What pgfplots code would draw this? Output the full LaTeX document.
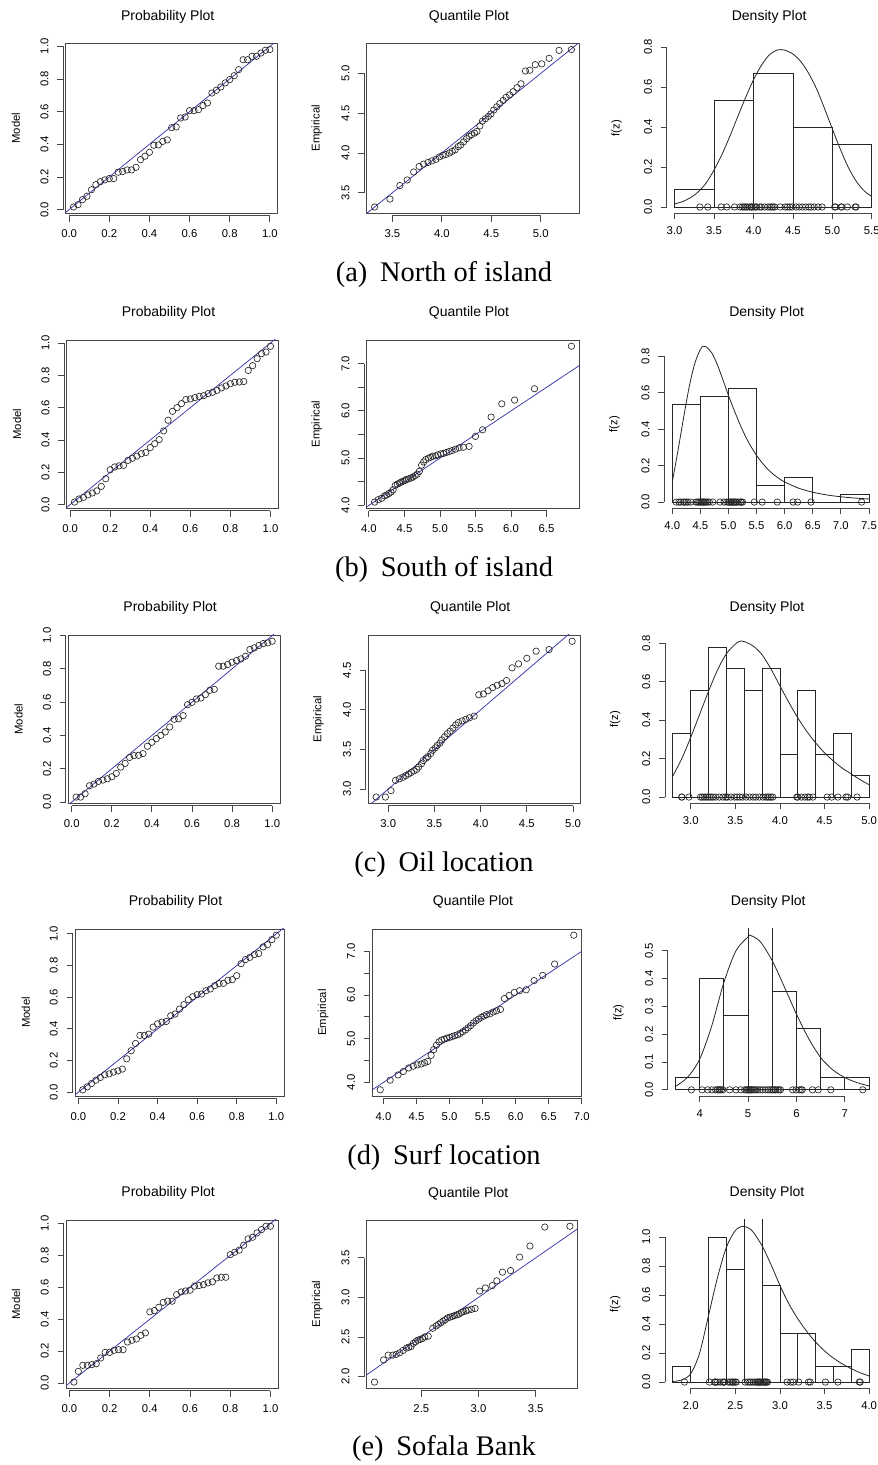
\documentclass[border=0pt]{standalone}
\usepackage{fontspec}
\setmainfont{Liberation Serif}
\newfontfamily\rsans{Liberation Sans}
\usepackage{pgfplots}
\usepackage{pgfplotstable}
\pgfplotsset{compat=1.18}

\definecolor{rblue}{RGB}{55,55,170}
\newcommand\rtick{\rsans\fontsize{11.3}{13}\selectfont}
\newcommand\rtitle{\rsans\fontsize{14}{16}\selectfont}
\newcommand\capfont{\fontsize{28.4}{31}\selectfont}

\tikzset{
  raxisline/.style={black!72, line width=0.85pt},
  rframe/.style={black!72, line width=0.85pt},
}
\pgfplotsset{
  rbase/.style={
    scale only axis, clip mode=individual, anchor=south west,
    axis x line*=bottom, axis y line*=left,
    x axis line style={draw=none}, y axis line style={draw=none},
    tick align=outside, major tick length=6pt,
    tick style={black!72, line width=0.85pt},
    tick label style={font=\rtick, /pgf/number format/assume math mode=true,
      /pgf/number format/fixed, /pgf/number format/fixed zerofill,
      /pgf/number format/precision=1},
    xticklabel style={inner sep=7.6pt},
    yticklabel style={rotate=90, anchor=south, inner sep=8.6pt},
    title style={font=\rtitle, at={(axis description cs:0.5,1)}, anchor=base, yshift=17pt, xshift=-4pt},
    every axis y label/.style={font=\rtick, at={(axis description cs:-0.235,0.5)}, rotate=90, anchor=center},
  },
  rpq/.style={rbase, axis x line shift=2.5pt, axis y line shift=2.5pt},
  rden/.style={rbase},
  rpts/.style={only marks, mark=o, mark size=3.2pt, black!85, mark options={line width=0.65pt}},
  rbar/.style={ybar, bar shift=0pt, draw=black!85, fill=none, line width=0.8pt},
  rcurve/.style={smooth, black!85, line width=0.8pt, no marks},
}
\newcommand\xline[4]{\draw[raxisline] ([yshift=-#4]axis cs:#1,#3) -- ([yshift=-#4]axis cs:#2,#3);}
\newcommand\yline[4]{\draw[raxisline] ([xshift=-#4]axis cs:#3,#1) -- ([xshift=-#4]axis cs:#3,#2);}

% Probability panel: x, y, w, h, ymin, ymax, table
\newcommand\PPanel[7]{%
\begin{axis}[rpq, at={(#1pt,#2pt)}, width=#3pt, height=#4pt,
  xmin=-0.017, xmax=1.039, ymin=#5, ymax=#6,
  xtick={0,0.2,0.4,0.6,0.8,1}, ytick={0,0.2,0.4,0.6,0.8,1},
  title={Probability Plot}, ylabel={Model}]
  \draw[rframe] (rel axis cs:0,0) rectangle (rel axis cs:1,1);
  \xline{0}{1}{#5}{2.5pt}
  \yline{0}{1}{-0.017}{2.5pt}
  \addplot[rblue, line width=0.75pt] coordinates {(-1,-1) (2,2)};
  \addplot[rpts] table[x=px, y=py] {#7};
\end{axis}}

\pgfplotstableread{
px py qx qy z
0.0222 0.016 3.32 3.32 0
0.0444 0.030 3.475 3.42 0
0.0667 0.061 3.575 3.59 0
0.0889 0.082 3.65 3.66 0
0.1111 0.122 3.715 3.76 0
0.1333 0.153 3.77 3.83 0
0.1556 0.171 3.815 3.86 0
0.1778 0.182 3.86 3.88 0
0.2000 0.190 3.90 3.90 0
0.2222 0.190 3.94 3.92 0
0.2444 0.229 3.975 3.95 0
0.2667 0.233 4.01 3.97 0
0.2889 0.243 4.04 3.98 0
0.3111 0.243 4.075 4.00 0
0.3333 0.259 4.105 4.02 0
0.3556 0.306 4.135 4.04 0
0.3778 0.327 4.165 4.08 0
0.4000 0.351 4.19 4.10 0
0.4222 0.394 4.22 4.14 0
0.4444 0.396 4.25 4.18 0
0.4667 0.418 4.275 4.21 0
0.4889 0.427 4.30 4.23 0
0.5111 0.502 4.33 4.25 0
0.5333 0.506 4.355 4.27 0
0.5556 0.561 4.385 4.34 0
0.5778 0.567 4.41 4.40 0
0.6000 0.606 4.44 4.43 0
0.6222 0.606 4.47 4.46 0
0.6444 0.612 4.495 4.49 0
0.6667 0.637 4.525 4.54 0
0.6889 0.653 4.555 4.58 0
0.7111 0.714 4.585 4.62 0
0.7333 0.731 4.62 4.66 0
0.7556 0.751 4.65 4.70 0
0.7778 0.776 4.685 4.73 0
0.8000 0.796 4.72 4.77 0
0.8222 0.820 4.76 4.82 0
0.8444 0.857 4.80 4.87 0
0.8667 0.918 4.845 5.03 0
0.8889 0.918 4.89 5.04 0
0.9111 0.939 4.945 5.11 0
0.9333 0.939 5.01 5.12 0
0.9556 0.959 5.085 5.19 0
0.9778 0.976 5.185 5.29 0
1.0000 0.980 5.31 5.30 0
}\dataA

\pgfplotstableread{
px py qx qy z
0.0222 0.016 4.08 4.07 0
0.0444 0.035 4.13 4.12 0
0.0667 0.045 4.18 4.15 0
0.0889 0.060 4.22 4.20 0
0.1111 0.072 4.25 4.22 0
0.1333 0.085 4.28 4.25 0
0.1556 0.113 4.31 4.28 0
0.1778 0.160 4.34 4.33 0
0.2000 0.216 4.37 4.42 0
0.2222 0.233 4.40 4.45 0
0.2444 0.240 4.43 4.47 0
0.2667 0.243 4.45 4.49 0
0.2889 0.274 4.48 4.51 0
0.3111 0.287 4.51 4.53 0
0.3333 0.300 4.53 4.55 0
0.3556 0.315 4.56 4.56 0
0.3778 0.322 4.59 4.58 0
0.4000 0.353 4.62 4.60 0
0.4222 0.377 4.65 4.63 0
0.4444 0.402 4.68 4.66 0
0.4667 0.456 4.71 4.72 0
0.4889 0.522 4.74 4.85 0
0.5111 0.577 4.77 4.92 0
0.5333 0.600 4.80 4.97 0
0.5556 0.625 4.84 5.00 0
0.5778 0.650 4.87 5.02 0
0.6000 0.654 4.90 5.04 0
0.6222 0.662 4.94 5.05 0
0.6444 0.670 4.97 5.07 0
0.6667 0.674 5.01 5.09 0
0.6889 0.687 5.05 5.10 0
0.7111 0.695 5.09 5.12 0
0.7333 0.707 5.13 5.14 0
0.7556 0.722 5.17 5.16 0
0.7778 0.734 5.22 5.19 0
0.8000 0.748 5.27 5.22 0
0.8222 0.757 5.33 5.23 0
0.8444 0.759 5.41 5.25 0
0.8667 0.762 5.50 5.46 0
0.8889 0.830 5.60 5.60 0
0.9111 0.860 5.72 5.87 0
0.9333 0.903 5.87 6.15 0
0.9556 0.934 6.05 6.23 0
0.9778 0.944 6.33 6.47 0
1.0000 0.980 6.85 7.37 0
}\dataB

\pgfplotstableread{
px py qx qy z
0.0222 0.030 2.87 2.90 0
0.0444 0.030 2.97 2.90 0
0.0667 0.050 3.03 2.98 0
0.0889 0.098 3.08 3.11 0
0.1111 0.108 3.12 3.13 0
0.1333 0.124 3.16 3.15 0
0.1556 0.132 3.19 3.17 0
0.1778 0.140 3.22 3.19 0
0.2000 0.152 3.25 3.21 0
0.2222 0.172 3.28 3.23 0
0.2444 0.210 3.31 3.25 0
0.2667 0.232 3.33 3.28 0
0.2889 0.268 3.36 3.32 0
0.3111 0.279 3.38 3.36 0
0.3333 0.281 3.41 3.39 0
0.3556 0.291 3.43 3.41 0
0.3778 0.335 3.46 3.45 0
0.4000 0.359 3.48 3.49 0
0.4222 0.381 3.51 3.52 0
0.4444 0.401 3.53 3.55 0
0.4667 0.421 3.56 3.58 0
0.4889 0.451 3.58 3.62 0
0.5111 0.497 3.61 3.66 0
0.5333 0.500 3.64 3.70 0
0.5556 0.519 3.67 3.73 0
0.5778 0.585 3.70 3.77 0
0.6000 0.599 3.73 3.81 0
0.6222 0.619 3.76 3.84 0
0.6444 0.625 3.80 3.86 0
0.6667 0.645 3.84 3.88 0
0.6889 0.671 3.88 3.90 0
0.7111 0.677 3.93 3.92 0
0.7333 0.816 3.98 4.19 0
0.7556 0.816 4.03 4.20 0
0.7778 0.826 4.08 4.24 0
0.8000 0.840 4.13 4.28 0
0.8222 0.850 4.18 4.31 0
0.8444 0.860 4.23 4.33 0
0.8667 0.876 4.28 4.37 0
0.8889 0.916 4.34 4.53 0
0.9111 0.926 4.41 4.58 0
0.9333 0.940 4.50 4.65 0
0.9556 0.952 4.60 4.74 0
0.9778 0.956 4.74 4.76 0
1.0000 0.966 4.99 4.865 0
}\dataC

\pgfplotstableread{
px py qx qy z
0.0222 0.015 3.95 3.83 0
0.0444 0.034 4.10 4.05 0
0.0667 0.055 4.22 4.17 0
0.0889 0.076 4.30 4.25 0
0.1111 0.093 4.38 4.33 0
0.1333 0.110 4.45 4.37 0
0.1556 0.116 4.51 4.40 0
0.1778 0.127 4.57 4.42 0
0.2000 0.135 4.62 4.45 0
0.2222 0.146 4.67 4.48 0
0.2444 0.211 4.72 4.62 0
0.2667 0.262 4.76 4.75 0
0.2889 0.308 4.80 4.85 0
0.3111 0.359 4.84 4.93 0
0.3333 0.359 4.88 4.97 0
0.3556 0.367 4.92 4.99 0
0.3778 0.411 4.96 5.01 0
0.4000 0.432 5.00 5.03 0
0.4222 0.443 5.04 5.05 0
0.4444 0.447 5.08 5.07 0
0.4667 0.483 5.12 5.09 0
0.4889 0.494 5.16 5.12 0
0.5111 0.525 5.20 5.16 0
0.5333 0.553 5.24 5.20 0
0.5556 0.584 5.28 5.25 0
0.5778 0.603 5.32 5.30 0
0.6000 0.616 5.36 5.36 0
0.6222 0.620 5.40 5.41 0
0.6444 0.641 5.44 5.45 0
0.6667 0.652 5.48 5.49 0
0.6889 0.673 5.52 5.52 0
0.7111 0.686 5.56 5.55 0
0.7333 0.688 5.61 5.57 0
0.7556 0.707 5.66 5.61 0
0.7778 0.711 5.71 5.64 0
0.8000 0.736 5.77 5.67 0
0.8222 0.812 5.83 5.92 0
0.8444 0.838 5.90 5.99 0
0.8667 0.852 5.98 6.06 0
0.8889 0.869 6.06 6.10 0
0.9111 0.876 6.16 6.12 0
0.9333 0.918 6.28 6.33 0
0.9556 0.932 6.41 6.45 0
0.9778 0.964 6.59 6.71 0
1.0000 0.992 6.88 7.37 0
}\dataD

\pgfplotstableread{
px py qx qy z
0.0222 0.006 2.09 1.93 0
0.0444 0.073 2.17 2.21 0
0.0667 0.111 2.21 2.27 0
0.0889 0.111 2.25 2.27 0
0.1111 0.115 2.28 2.28 0
0.1333 0.121 2.31 2.30 0
0.1556 0.157 2.34 2.33 0
0.1778 0.192 2.37 2.36 0
0.2000 0.192 2.39 2.37 0
0.2222 0.205 2.41 2.38 0
0.2444 0.209 2.43 2.42 0
0.2667 0.209 2.45 2.44 0
0.2889 0.257 2.47 2.46 0
0.3111 0.268 2.49 2.47 0
0.3333 0.276 2.51 2.48 0
0.3556 0.299 2.53 2.50 0
0.3778 0.314 2.56 2.51 0
0.4000 0.446 2.60 2.61 0
0.4222 0.454 2.63 2.64 0
0.4444 0.475 2.65 2.66 0
0.4667 0.506 2.67 2.68 0
0.4889 0.513 2.69 2.70 0
0.5111 0.513 2.71 2.72 0
0.5333 0.554 2.73 2.74 0
0.5556 0.571 2.75 2.75 0
0.5778 0.577 2.77 2.76 0
0.6000 0.582 2.79 2.77 0
0.6222 0.607 2.81 2.78 0
0.6444 0.611 2.83 2.79 0
0.6667 0.617 2.85 2.81 0
0.6889 0.628 2.87 2.82 0
0.7111 0.634 2.89 2.83 0
0.7333 0.659 2.91 2.84 0
0.7556 0.663 2.94 2.85 0
0.7778 0.663 2.97 2.86 0
0.8000 0.805 3.01 3.08 0
0.8222 0.820 3.06 3.12 0
0.8444 0.833 3.12 3.15 0
0.8667 0.864 3.16 3.21 0
0.8889 0.904 3.21 3.32 0
0.9111 0.914 3.28 3.34 0
0.9333 0.941 3.36 3.51 0
0.9556 0.962 3.45 3.65 0
0.9778 0.983 3.58 3.89 0
1.0000 0.983 3.80 3.90 0
}\dataE

\pgfplotstableread{
x f
3.0 0.015
3.1 0.027
3.2 0.046
3.3 0.076
3.4 0.120
3.5 0.185
3.6 0.262
3.7 0.353
3.8 0.451
3.9 0.547
4.0 0.636
4.1 0.708
4.2 0.760
4.3 0.785
4.35 0.787
4.4 0.784
4.5 0.765
4.6 0.727
4.7 0.668
4.8 0.590
4.9 0.493
5.0 0.390
5.1 0.290
5.2 0.200
5.3 0.130
5.4 0.082
5.5 0.052
}\curveA

\pgfplotstableread{
x f
4.0 0.110
4.1 0.280
4.2 0.460
4.3 0.630
4.4 0.760
4.5 0.838
4.55 0.855
4.6 0.852
4.7 0.820
4.8 0.755
4.9 0.672
5.0 0.585
5.1 0.505
5.2 0.430
5.3 0.362
5.4 0.305
5.5 0.256
5.6 0.215
5.7 0.180
5.8 0.152
5.9 0.129
6.0 0.110
6.25 0.076
6.5 0.054
6.75 0.039
7.0 0.029
7.25 0.022
7.5 0.017
}\curveB

\pgfplotstableread{
x f
2.8 0.110
2.9 0.200
3.0 0.310
3.1 0.430
3.2 0.550
3.3 0.660
3.4 0.745
3.5 0.795
3.55 0.810
3.6 0.808
3.7 0.785
3.8 0.740
3.9 0.665
4.0 0.578
4.1 0.492
4.2 0.412
4.3 0.342
4.4 0.282
4.5 0.230
4.6 0.187
4.7 0.150
4.8 0.120
4.9 0.090
5.0 0.064
}\curveC

\pgfplotstableread{
x f
3.5 0.012
3.75 0.045
4.0 0.110
4.25 0.230
4.5 0.386
4.75 0.500
5.0 0.550
5.05 0.555
5.25 0.533
5.5 0.464
5.75 0.370
6.0 0.272
6.25 0.185
6.5 0.116
6.75 0.072
7.0 0.044
7.25 0.026
7.5 0.014
}\curveD

\pgfplotstableread{
x f
1.8 0.004
1.9 0.015
2.0 0.057
2.1 0.200
2.2 0.460
2.3 0.720
2.4 0.930
2.5 1.045
2.58 1.075
2.65 1.062
2.7 1.035
2.8 0.940
2.9 0.810
3.0 0.667
3.1 0.540
3.2 0.437
3.3 0.350
3.4 0.276
3.5 0.215
3.6 0.165
3.7 0.125
3.8 0.092
3.9 0.064
4.0 0.042
}\curveE

\begin{document}
\begin{tikzpicture}[x=1pt,y=1pt]
\useasboundingbox (0,0) rectangle (878,1465);

% ---------------- Row (a) ----------------
\PPanel{65.7}{1251.7}{212}{170}{-0.0226}{1.0186}{\dataA}
\begin{axis}[rpq, at={(366.7pt,1251.7pt)}, width=212.6pt, height=170pt,
  xmin=3.24, xmax=5.39, ymin=3.241, ymax=5.379,
  xtick={3.5,4.0,4.5,5.0}, ytick={3.5,4.0,4.5,5.0},
  title={Quantile Plot}, ylabel={Empirical}]
  \draw[rframe] (rel axis cs:0,0) rectangle (rel axis cs:1,1);
  \xline{3.5}{5.0}{3.241}{2.5pt}
  \yline{3.5}{5.0}{3.24}{2.5pt}
  \addplot[rblue, line width=0.75pt] coordinates {(0,0) (10,10)};
  \addplot[rpts] table[x=qx, y=qy] {\dataA};
\end{axis}
\begin{axis}[rden, at={(666.7pt,1251.7pt)}, width=213pt, height=170pt,
  xmin=2.9, xmax=5.6, ymin=-0.0315, ymax=0.8185,
  xtick={3.0,3.5,4.0,4.5,5.0,5.5}, ytick={0,0.2,0.4,0.6,0.8},
  title={Density Plot}, ylabel={f(z)}]
  \xline{3.0}{5.5}{-0.0315}{0pt}
  \yline{0}{0.8}{2.9}{0pt}
  \addplot[rbar, bar width=0.5] coordinates {(3.25,0.0889) (3.75,0.5333) (4.25,0.6667) (4.75,0.4) (5.25,0.3111)};
  \addplot[rcurve] table[x=x, y=f] {\curveA};
  \addplot[rpts] table[x=qy, y=z] {\dataA};
\end{axis}
\node[anchor=base, font=\capfont] at (444,1183.3) {(a)\hspace{0.45em}North of island};

% ---------------- Row (b) ----------------
\PPanel{66.7}{956.7}{211.6}{168.3}{-0.0226}{1.0186}{\dataB}
\begin{axis}[rpq, at={(366.7pt,956.7pt)}, width=212.6pt, height=168.3pt,
  xmin=3.969, xmax=6.961, ymin=3.938, ymax=7.502,
  xtick={4.0,4.5,5.0,5.5,6.0,6.5}, ytick={4.0,4.5,5.0,5.5,6.0,6.5,7.0},
  yticklabels={4.0,,5.0,,6.0,,7.0},
  title={Quantile Plot}, ylabel={Empirical}]
  \draw[rframe] (rel axis cs:0,0) rectangle (rel axis cs:1,1);
  \xline{4.0}{6.5}{3.938}{2.5pt}
  \yline{4.0}{7.0}{3.969}{2.5pt}
  \addplot[rblue, line width=0.75pt] coordinates {(0,0) (10,10)};
  \addplot[rpts] table[x=qx, y=qy] {\dataB};
\end{axis}
\begin{axis}[rden, at={(664.4pt,956.7pt)}, width=212.4pt, height=168.3pt,
  xmin=3.86, xmax=7.64, ymin=-0.0342, ymax=0.8892,
  xtick={4.0,4.5,5.0,5.5,6.0,6.5,7.0,7.5}, ytick={0,0.2,0.4,0.6,0.8},
  title={Density Plot}, ylabel={f(z)}]
  \xline{4.0}{7.5}{-0.0342}{0pt}
  \yline{0}{0.8}{3.86}{0pt}
  \addplot[rbar, bar width=0.5] coordinates {(4.25,0.5333) (4.75,0.5778) (5.25,0.6222) (5.75,0.0889) (6.25,0.1333) (6.75,0) (7.25,0.0444)};
  \addplot[rcurve] table[x=x, y=f] {\curveB};
  \addplot[rpts] table[x=qy, y=z] {\dataB};
\end{axis}
\node[anchor=base, font=\capfont] at (444,888.3) {(b)\hspace{0.45em}South of island};

% ---------------- Row (c) ----------------
\PPanel{68.3}{661.7}{211.7}{168.3}{-0.0074}{1.0034}{\dataC}
\begin{axis}[rpq, at={(368.3pt,661.7pt)}, width=211.7pt, height=168.3pt,
  xmin=2.785, xmax=5.075, ymin=2.821, ymax=4.944,
  xtick={3.0,3.5,4.0,4.5,5.0}, ytick={3.0,3.5,4.0,4.5},
  title={Quantile Plot}, ylabel={Empirical}]
  \draw[rframe] (rel axis cs:0,0) rectangle (rel axis cs:1,1);
  \xline{3.0}{5.0}{2.821}{2.5pt}
  \yline{3.0}{4.5}{2.785}{2.5pt}
  \addplot[rblue, line width=0.75pt] coordinates {(0,0) (10,10)};
  \addplot[rpts] table[x=qx, y=qy] {\dataC};
\end{axis}
\begin{axis}[rden, at={(665pt,661.7pt)}, width=212pt, height=168.3pt,
  xmin=2.712, xmax=5.088, ymin=-0.0324, ymax=0.8424,
  xtick={3.0,3.5,4.0,4.5,5.0}, ytick={0,0.2,0.4,0.6,0.8},
  title={Density Plot}, ylabel={f(z)}]
  \xline{3.0}{5.0}{-0.0324}{0pt}
  \yline{0}{0.8}{2.712}{0pt}
  \addplot[rbar, bar width=0.2] coordinates {(2.9,0.3333) (3.1,0.5556) (3.3,0.7778) (3.5,0.6667) (3.7,0.5556) (3.9,0.6667) (4.1,0.2222) (4.3,0.5556) (4.5,0.2222) (4.7,0.3333) (4.9,0.1111)};
  \addplot[rcurve] table[x=x, y=f] {\curveC};
  \addplot[rpts] table[x=qy, y=z] {\dataC};
\end{axis}
\node[anchor=base, font=\capfont] at (444,593.3) {(c)\hspace{0.45em}Oil location};

% ---------------- Row (d) ----------------
\PPanel{75}{369}{209}{167}{-0.024}{1.031}{\dataD}
\begin{axis}[rpq, at={(372.3pt,369pt)}, width=209.4pt, height=167pt,
  xmin=3.83, xmax=7.0, ymin=3.688, ymax=7.512,
  xtick={4.0,4.5,5.0,5.5,6.0,6.5,7.0}, ytick={4.0,4.5,5.0,5.5,6.0,6.5,7.0},
  yticklabels={4.0,,5.0,,6.0,,7.0},
  title={Quantile Plot}, ylabel={Empirical}]
  \draw[rframe] (rel axis cs:0,0) rectangle (rel axis cs:1,1);
  \xline{4.0}{7.0}{3.688}{2.5pt}
  \yline{4.0}{7.0}{3.83}{2.5pt}
  \addplot[rblue, line width=0.75pt] coordinates {(0,0) (10,10)};
  \addplot[rpts] table[x=qx, y=qy] {\dataD};
\end{axis}
\begin{axis}[rden, at={(667.7pt,369pt)}, width=209.1pt, height=167pt,
  xmin=3.34, xmax=7.66, ymin=-0.0222, ymax=0.5782,
  xtick={4,5,6,7}, xticklabels={4,5,6,7}, ytick={0,0.1,0.2,0.3,0.4,0.5},
  title={Density Plot}, ylabel={f(z)}]
  \xline{4}{7}{-0.0222}{0pt}
  \yline{0}{0.5}{3.34}{0pt}
  \addplot[rbar, bar width=0.5] coordinates {(3.75,0.0444) (4.25,0.4) (4.75,0.2667) (5.25,0.6222) (5.75,0.3556) (6.25,0.2222) (6.75,0.0444) (7.25,0.0444)};
  \addplot[rcurve] table[x=x, y=f] {\curveD};
  \addplot[rpts] table[x=qy, y=z] {\dataD};
\end{axis}
\node[anchor=base, font=\capfont] at (444,300.6) {(d)\hspace{0.45em}Surf location};

% ---------------- Row (e) ----------------
\PPanel{66}{76.7}{212.3}{168.3}{-0.0331}{1.0221}{\dataE}
\begin{axis}[rpq, at={(366.7pt,76.7pt)}, width=211pt, height=168.3pt,
  xmin=2.022, xmax=3.868, ymin=1.851, ymax=3.979,
  xtick={2.5,3.0,3.5}, ytick={2.0,2.5,3.0,3.5},
  title={Quantile Plot}, ylabel={Empirical}]
  \draw[rframe] (rel axis cs:0,0) rectangle (rel axis cs:1,1);
  \xline{2.5}{3.5}{1.851}{2.5pt}
  \yline{2.0}{3.5}{2.022}{2.5pt}
  \addplot[rblue, line width=0.75pt] coordinates {(0,0) (10,10)};
  \addplot[rpts] table[x=qx, y=qy] {\dataE};
\end{axis}
\begin{axis}[rden, at={(665pt,76.7pt)}, width=212pt, height=168.3pt,
  xmin=1.712, xmax=4.088, ymin=-0.043, ymax=1.118,
  xtick={2.0,2.5,3.0,3.5,4.0}, ytick={0,0.2,0.4,0.6,0.8,1.0},
  title={Density Plot}, ylabel={f(z)}]
  \xline{2.0}{4.0}{-0.043}{0pt}
  \yline{0}{1.0}{1.712}{0pt}
  \addplot[rbar, bar width=0.2] coordinates {(1.9,0.1111) (2.1,0) (2.3,1.0) (2.5,0.7778) (2.7,1.3333) (2.9,0.6667) (3.1,0.3333) (3.3,0.3333) (3.5,0.1111) (3.7,0.1111) (3.9,0.2222)};
  \addplot[rcurve] table[x=x, y=f] {\curveE};
  \addplot[rpts] table[x=qy, y=z] {\dataE};
\end{axis}
\node[anchor=base, font=\capfont] at (444,9.3) {(e)\hspace{0.45em}Sofala Bank};
\end{tikzpicture}
\end{document}
